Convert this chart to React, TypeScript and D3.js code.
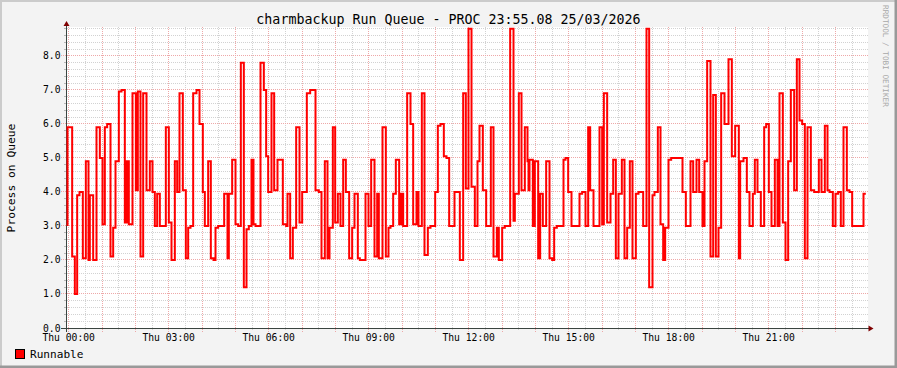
import React, { useRef, useEffect } from 'react';
import * as d3 from 'd3';

const WIDTH = 897;
const HEIGHT = 368;

// hours since the first sample at which the queue length changed
const stepHours = [
  0, 0, 0.14, 0.22, 0.29, 0.36, 0.46, 0.55, 0.63, 0.67, 0.77, 0.87, 0.97, 1.05, 1.12, 1.19,
  1.29, 1.37, 1.44, 1.54, 1.62, 1.72, 1.78, 1.84, 1.95, 2.05, 2.11, 2.19, 2.27, 2.37, 2.47,
  2.55, 2.62, 2.69, 2.77, 2.95, 3.04, 3.12, 3.22, 3.29, 3.36, 3.46, 3.55, 3.62, 3.69, 3.77,
  3.87, 3.96, 4.06, 4.12, 4.22, 4.30, 4.38, 4.44, 4.52, 4.70, 4.80, 4.84, 4.94, 5.04, 5.12,
  5.20, 5.29, 5.37, 5.44, 5.52, 5.58, 5.64, 5.79, 5.89, 5.96, 6.02, 6.12, 6.20, 6.30, 6.46,
  6.56, 6.60, 6.68, 6.76, 6.86, 6.96, 7.04, 7.18, 7.28, 7.44, 7.54, 7.62, 7.72, 7.80, 7.86,
  7.96, 8.03, 8.11, 8.19, 8.27, 8.35, 8.45, 8.54, 8.61, 8.71, 8.77, 8.94, 9.03, 9.11, 9.21,
  9.29, 9.34, 9.45, 9.55, 9.63, 9.69, 9.77, 9.85, 9.95, 10.01, 10.07, 10.19, 10.29, 10.37,
  10.47, 10.53, 10.63, 10.71, 10.81, 10.89, 11.03, 11.11, 11.19, 11.29, 11.37, 11.45, 11.61,
  11.77, 11.87, 11.95, 12.03, 12.12, 12.22, 12.30, 12.36, 12.46, 12.56, 12.70, 12.78, 12.88,
  12.94, 13.04, 13.12, 13.28, 13.38, 13.42, 13.54, 13.62, 13.72, 13.80, 13.83, 13.86, 13.96,
  14.02, 14.12, 14.18, 14.26, 14.36, 14.46, 14.54, 14.60, 14.68, 14.88, 14.94, 15.02, 15.12,
  15.36, 15.44, 15.54, 15.62, 15.68, 15.78, 15.96, 16.04, 16.09, 16.19, 16.29, 16.37, 16.45,
  16.53, 16.63, 16.71, 16.79, 16.87, 16.95, 17.05, 17.13, 17.27, 17.37, 17.45, 17.55, 17.61,
  17.71, 17.79, 17.87, 17.93, 18.03, 18.11, 18.45, 18.55, 18.69, 18.77, 18.87, 18.95, 19.05,
  19.11, 19.19, 19.29, 19.37, 19.45, 19.53, 19.61, 19.71, 19.83, 19.93, 20.03, 20.14, 20.18,
  20.28, 20.38, 20.46, 20.56, 20.62, 20.70, 20.80, 20.90, 20.96, 21.04, 21.12, 21.22, 21.30,
  21.36, 21.46, 21.54, 21.62, 21.70, 21.80, 21.88, 21.96, 22.04, 22.12, 22.20, 22.30, 22.40,
  22.54, 22.62, 22.72, 22.80, 22.86, 22.96, 23.04, 23.12, 23.20, 23.28, 23.38, 23.46, 23.54,
  23.88,
];

// runnable processes from each of those times on
const runnable = [
  3.0, 5.9, 2.1, 1.0, 3.9, 4.0, 2.05, 4.9, 2.0, 3.9, 2.0, 5.9, 5.0, 3.05, 5.9, 6.0,
  2.1, 2.95, 4.9, 6.95, 7.0, 3.1, 4.9, 3.05, 6.9, 4.05, 6.95, 2.1, 6.9, 4.05, 4.9,
  4.0, 3.0, 3.95, 3.0, 5.9, 3.1, 2.0, 4.9, 4.0, 6.9, 4.05, 2.05, 2.95, 3.0, 6.9,
  7.0, 6.0, 4.0, 3.0, 4.9, 2.05, 2.0, 2.95, 3.0, 3.95, 2.05, 3.95, 4.95, 3.05, 3.0,
  7.8, 1.2, 2.9, 3.0, 4.95, 3.05, 3.0, 7.8, 7.0, 5.05, 4.0, 6.9, 4.05, 4.95, 3.05,
  3.0, 3.95, 2.05, 2.95, 5.9, 3.1, 4.0, 6.9, 7.0, 4.05, 4.0, 2.05, 4.9, 2.05, 2.95,
  5.9, 3.1, 3.95, 3.0, 4.95, 4.0, 2.05, 2.95, 3.95, 2.05, 2.0, 3.95, 3.0, 4.95, 2.1,
  3.95, 2.05, 5.9, 2.1, 2.95, 3.0, 3.95, 4.95, 3.05, 3.95, 3.0, 6.9, 6.0, 3.05,
  4.0, 3.0, 6.9, 2.15, 2.95, 3.0, 4.0, 5.95, 6.0, 5.05, 5.0, 3.0, 4.0,
  2.0, 6.9, 4.1, 8.8, 4.15, 3.0, 4.9, 5.95, 4.05, 3.0, 5.9, 2.1, 2.95,
  2.0, 2.95, 3.0, 8.8, 3.15, 3.95, 6.9, 4.05, 5.9, 4.9, 4.05, 4.95, 3.0,
  4.9, 2.05, 3.95, 3.0, 4.9, 2.05, 2.0, 2.95, 3.0, 4.95, 5.0, 4.0, 3.0,
  3.95, 4.0, 3.0, 5.9, 4.05, 3.0, 5.9, 3.05, 6.9, 3.1, 3.95, 4.95, 2.05,
  3.95, 4.95, 2.05, 2.95, 4.9, 2.05, 3.95, 4.0, 3.0, 8.8, 1.2, 3.9, 4.0,
  5.9, 3.05, 2.0, 2.95, 4.95, 5.0, 4.0, 3.0, 4.9, 4.0, 4.95, 4.0, 3.0,
  4.9, 7.85, 2.1, 6.85, 2.1, 2.95, 6.9, 6.0, 7.9, 5.05, 5.95, 2.05, 4.9,
  5.0, 4.0, 3.0, 3.95, 4.95, 4.0, 3.0, 5.9, 6.0, 4.0, 3.0, 4.95, 3.0,
  6.9, 3.1, 2.0, 4.9, 7.0, 4.05, 7.9, 6.1, 6.0, 2.05, 5.9, 4.05, 4.0,
  4.95, 4.0, 5.95, 4.05, 4.0, 3.0, 3.95, 4.0, 3.0, 5.9, 4.05, 4.0, 3.0,
  3.95,
];

const lastSampleHour = 23.95;
const graphHours = 24;
const midnightOffset = 0.036; // Thu 00:00 sits ~2 minutes after the first sample

const tickHours = [0, 3, 6, 9, 12, 15, 18, 21];
const tickLabels = ["Thu 00:00", "Thu 03:00", "Thu 06:00", "Thu 09:00", "Thu 12:00", "Thu 15:00", "Thu 18:00", "Thu 21:00"];
const yTicks = [0, 1, 2, 3, 4, 5, 6, 7, 8];
const yMax = 8.85;

const FONT = "'DejaVu Sans Mono', monospace";

const App: React.FC = () => {
  const svgRef = useRef<SVGSVGElement>(null);

  useEffect(() => {
    if (!svgRef.current) return;
    const svg = d3.select(svgRef.current);
    svg.selectAll("*").remove();

    const left = 67.5, right = 867.5, top = 27, bottom = 328;
    const x = d3.scaleLinear().domain([0, graphHours]).range([left, right]);
    const y = d3.scaleLinear().domain([0, yMax]).range([bottom, top]);
    const px = (v: number) => Math.floor(v) + 0.5;
    const axisX = 66.5;

    // background and 3d frame
    svg.append("rect").attr("width", WIDTH).attr("height", HEIGHT).attr("fill", "#F3F3F3");
    svg.append("path").attr("d", `M0,${HEIGHT} V0 H${WIDTH}`).attr("fill", "none")
      .attr("stroke", "#CBCBCB").attr("stroke-width", 4);
    svg.append("path").attr("d", `M0,${HEIGHT} H${WIDTH} V0`).attr("fill", "none")
      .attr("stroke", "#999999").attr("stroke-width", 5);

    svg.append("rect").attr("x", 67).attr("y", top)
      .attr("width", 801).attr("height", bottom - top).attr("fill", "#FFFFFF");

    const grid = svg.append("g").attr("shape-rendering", "crispEdges");

    // minor grid: every 0.2 and every half hour
    const minorY = d3.range(0, yMax + 0.001, 0.2).filter(v => Math.abs(v - Math.round(v)) > 0.01);
    grid.selectAll(".hminor").data(minorY).enter().append("line")
      .attr("x1", 67).attr("x2", 868)
      .attr("y1", d => px(y(d))).attr("y2", d => px(y(d)))
      .attr("stroke", "#D2D2D2").attr("stroke-dasharray", "1,1");
    grid.selectAll(".hminortick").data(minorY).enter().append("line")
      .attr("x1", 64).attr("x2", 67)
      .attr("y1", d => px(y(d))).attr("y2", d => px(y(d)))
      .attr("stroke", "#B8B8B8");
    const minorX = d3.range(0.5, 24, 1).map(h => h + midnightOffset);
    grid.selectAll(".vminor").data(minorX).enter().append("line")
      .attr("x1", d => px(x(d))).attr("x2", d => px(x(d)))
      .attr("y1", top).attr("y2", bottom + 2)
      .attr("stroke", "#D2D2D2").attr("stroke-dasharray", "1,1");

    // major grid
    grid.selectAll(".hmajor").data(yTicks.slice(1)).enter().append("line")
      .attr("x1", 61).attr("x2", 868)
      .attr("y1", d => px(y(d))).attr("y2", d => px(y(d)))
      .attr("stroke", "#EEA8A8").attr("stroke-dasharray", "1,1");
    const majorX = d3.range(0, 24, 1).map(h => h + midnightOffset);
    grid.selectAll(".vmajor").data(majorX).enter().append("line")
      .attr("x1", d => px(x(d))).attr("x2", d => px(x(d)))
      .attr("y1", top).attr("y2", bottom + 4)
      .attr("stroke", "#EEA8A8").attr("stroke-dasharray", "1,1");

    // axes
    const axisColor = "#3A4440";
    svg.append("line").attr("x1", 61).attr("x2", right + 2)
      .attr("y1", bottom + 0.5).attr("y2", bottom + 0.5)
      .attr("stroke", axisColor).attr("stroke-width", 1);
    svg.append("line").attr("x1", axisX).attr("x2", axisX)
      .attr("y1", bottom + 4).attr("y2", top - 3)
      .attr("stroke", axisColor).attr("stroke-width", 1);
    svg.append("path")
      .attr("d", `M${right + 6},${bottom + 0.5} L${right + 1},${bottom - 2.5} L${right + 1},${bottom + 3.5} Z`)
      .attr("fill", "#7F0000");
    svg.append("path")
      .attr("d", `M${axisX},${top - 6} L${axisX - 3},${top - 1} L${axisX + 3},${top - 1} Z`)
      .attr("fill", "#7F0000");

    // the run queue
    const points: [number, number][] = stepHours.map((h, i) => [h, runnable[i]]);
    points.push([lastSampleHour, runnable[runnable.length - 1]]);
    const line = d3.line<[number, number]>()
      .x(d => x(d[0]))
      .y(d => y(d[1]))
      .curve(d3.curveStepAfter);
    svg.append("path").datum(points)
      .attr("d", line)
      .attr("fill", "none")
      .attr("stroke", "#FF0000")
      .attr("stroke-width", 2);

    // y tick labels
    svg.selectAll(".ylabel").data(yTicks).enter().append("text")
      .attr("x", 60.5)
      .attr("y", d => y(d) + 3.5)
      .attr("text-anchor", "end")
      .style("font-family", FONT)
      .style("font-size", "9.7px")
      .style("fill", "#000")
      .text(d => d3.format(".1f")(d));

    // x tick labels
    svg.selectAll(".xlabel").data(tickHours).enter().append("text")
      .attr("x", d => x(d + midnightOffset))
      .attr("y", bottom + 13)
      .attr("text-anchor", "middle")
      .style("font-family", FONT)
      .style("font-size", "9.7px")
      .style("fill", "#000")
      .text((d, i) => tickLabels[i]);

    // title
    svg.append("text")
      .attr("x", WIDTH / 2)
      .attr("y", 24.3)
      .attr("text-anchor", "middle")
      .style("font-family", FONT)
      .style("font-size", "13.3px")
      .style("fill", "#000")
      .text("charmbackup Run Queue - PROC 23:55.08 25/03/2026");

    // vertical unit label
    svg.append("text")
      .attr("transform", "translate(15,178) rotate(-90)")
      .attr("text-anchor", "middle")
      .style("font-family", FONT)
      .style("font-size", "11.3px")
      .style("fill", "#000")
      .text("Process on Queue");

    // watermark
    svg.append("text")
      .attr("transform", "translate(883,5) rotate(90)")
      .style("font-family", FONT)
      .style("font-size", "7.7px")
      .style("fill", "#A8A8A8")
      .text("RRDTOOL / TOBI OETIKER");

    // legend
    svg.append("rect").attr("x", 15.5).attr("y", 349.5).attr("width", 9).attr("height", 9)
      .attr("fill", "#FF0000").attr("stroke", "#000").attr("stroke-width", 1);
    svg.append("text")
      .attr("x", 30)
      .attr("y", 357.5)
      .style("font-family", FONT)
      .style("font-size", "11.1px")
      .style("fill", "#000")
      .text("Runnable");
  }, []);

  return (
    <svg
      ref={svgRef}
      width={WIDTH}
      height={HEIGHT}
      style={{ position: 'absolute', left: 0, top: 0, display: 'block' }}
    />
  );
};

export default App;
